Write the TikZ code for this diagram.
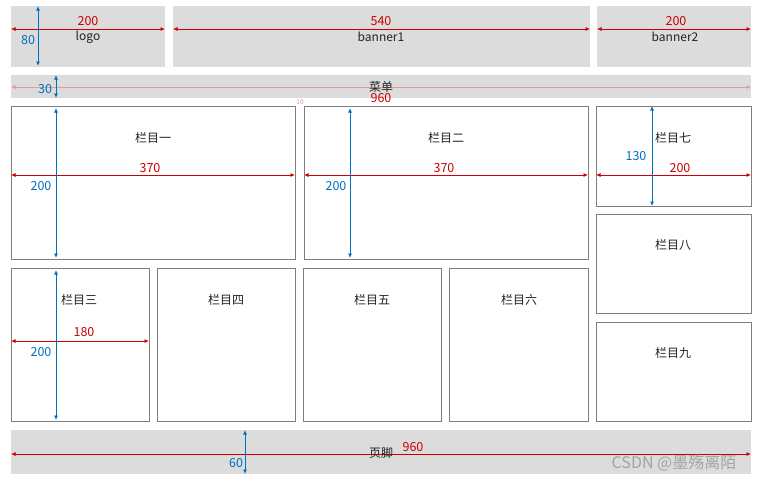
\documentclass[tikz,border=0pt]{standalone}
\usepackage{fontspec}
\setmainfont{Noto Sans CJK SC}
\usetikzlibrary{arrows.meta}
\definecolor{dimred}{HTML}{CC0000}
\definecolor{dimblue}{HTML}{0070C0}
\definecolor{boxgray}{HTML}{DCDCDC}
\definecolor{edgegray}{HTML}{7F7F7F}
\definecolor{lightred}{HTML}{E39A9A}
\definecolor{txtgray}{HTML}{222222}
\definecolor{markgray}{HTML}{A3A3A3}
\begin{document}
\begin{tikzpicture}[x=1pt,y=-1pt,
  graybox/.style={fill=boxgray,draw=none,inner sep=0pt,outer sep=0pt},
  whitebox/.style={fill=white,draw=edgegray,line width=0.9pt,inner sep=0pt,outer sep=0pt},
  dimh/.style={draw=dimred,line width=0.8pt,{Latex[length=4.5pt,width=4pt]}-{Latex[length=4.5pt,width=4pt]}},
  dimhl/.style={draw=lightred,line width=0.8pt,{Latex[length=4.5pt,width=4pt]}-{Latex[length=4.5pt,width=4pt]}},
  dimv/.style={draw=dimblue,line width=0.8pt,{Latex[length=4.5pt,width=4pt]}-{Latex[length=4.5pt,width=4pt]}},
  rlab/.style={text=dimred,font=\fontsize{12.5}{12.5}\selectfont,inner sep=0pt},
  blab/.style={text=dimblue,font=\fontsize{12.5}{12.5}\selectfont,inner sep=0pt},
  tlab/.style={text=txtgray,font=\fontsize{12}{12}\selectfont,inner sep=0pt}]
\useasboundingbox[fill=white] (0,0) rectangle (759,485);
% boxes
\node[graybox,minimum width=154pt,minimum height=61pt] (logo) at (88,36.5) {};
\node[graybox,minimum width=417pt,minimum height=61pt] (banner1) at (381.5,36.5) {};
\node[graybox,minimum width=154pt,minimum height=61pt] (banner2) at (674,36.5) {};
\node[graybox,minimum width=740pt,minimum height=23pt] (menu) at (381,86.5) {};
\node[whitebox,minimum width=284pt,minimum height=153pt] (c1) at (153,182.5) {};
\node[whitebox,minimum width=284pt,minimum height=153pt] (c2) at (446,182.5) {};
\node[whitebox,minimum width=155pt,minimum height=100pt] (c7) at (673.5,156) {};
\node[whitebox,minimum width=155pt,minimum height=99pt] (c8) at (673.5,263.5) {};
\node[whitebox,minimum width=155pt,minimum height=99pt] (c9) at (673.5,371.5) {};
\node[whitebox,minimum width=138pt,minimum height=153pt] (c3) at (80,344.5) {};
\node[whitebox,minimum width=138pt,minimum height=153pt] (c4) at (226,344.5) {};
\node[whitebox,minimum width=138pt,minimum height=153pt] (c5) at (372,344.5) {};
\node[whitebox,minimum width=139pt,minimum height=153pt] (c6) at (518.5,344.5) {};
\node[graybox,minimum width=740pt,minimum height=44pt] (footer) at (381,452) {};
% coordinates
\coordinate (logoL) at (11,29); \coordinate (logoR) at (165,29);
\coordinate (logoT) at (38,6); \coordinate (logoB) at (38,66);
\coordinate (b1L) at (173,29); \coordinate (b1R) at (590,29);
\coordinate (b2L) at (597,29); \coordinate (b2R) at (751,29);
\coordinate (menuL) at (11,87); \coordinate (menuR) at (751,87);
\coordinate (menuT) at (56,75); \coordinate (menuB) at (56,98);
\coordinate (c1L) at (11,175); \coordinate (c1R) at (295,175);
\coordinate (c1T) at (56,108); \coordinate (c1B) at (56,258);
\coordinate (c2L) at (304,175); \coordinate (c2R) at (588,175);
\coordinate (c2T) at (350,108); \coordinate (c2B) at (350,258);
\coordinate (c7L) at (596,175); \coordinate (c7R) at (751,175);
\coordinate (c7T) at (652,106); \coordinate (c7B) at (652,206);
\coordinate (c3L) at (11,341); \coordinate (c3R) at (149,341);
\coordinate (c3T) at (56,270); \coordinate (c3B) at (56,420);
\coordinate (ftL) at (11,454); \coordinate (ftR) at (751,454);
\coordinate (ftT) at (245,430); \coordinate (ftB) at (245,474);
% dimension lines
\draw[dimh] (logoL) -- (logoR);
\draw[dimv] (logoT) -- (logoB);
\draw[dimh] (b1L) -- (b1R);
\draw[dimh] (b2L) -- (b2R);
\draw[dimhl] (menuL) -- (menuR);
\draw[dimv] (menuT) -- (menuB);
\draw[dimh] (c1L) -- (c1R);
\draw[dimv] (c1T) -- (c1B);
\draw[dimh] (c2L) -- (c2R);
\draw[dimv] (c2T) -- (c2B);
\draw[dimh] (c7L) -- (c7R);
\draw[dimv] (c7T) -- (c7B);
\draw[dimh] (c3L) -- (c3R);
\draw[dimv] (c3T) -- (c3B);
\draw[dimh] (ftL) -- (ftR);
\draw[dimv] (ftT) -- (ftB);
% labels
\node[rlab] (logoW) at (88,21) {200};
\node[tlab] (logoN) at (88,37) {logo};
\node[blab] (logoH) at (28,40) {80};
\node[rlab] (b1W) at (381,21) {540};
\node[tlab] (b1N) at (381,37) {banner1};
\node[rlab] (b2W) at (676,21) {200};
\node[tlab] (b2N) at (675,37) {banner2};
\node[blab] (menuH) at (45,89) {30};
\node[tlab] (menuN) at (381,87) {菜单};
\node[rlab] (menuW) at (381,98) {960};
\node[text=lightred,font=\fontsize{6.5}{6.5}\selectfont,inner sep=0pt] (gap) at (300,102) {10};
\node[tlab] (c1N) at (153,138) {栏目一};
\node[rlab] (c1W) at (150,168) {370};
\node[blab] (c1H) at (41,186) {200};
\node[tlab] (c2N) at (446,138) {栏目二};
\node[rlab] (c2W) at (444,168) {370};
\node[blab] (c2H) at (336,186) {200};
\node[tlab] (c7N) at (673,138) {栏目七};
\node[blab] (c7H) at (636,156) {130};
\node[rlab] (c7W) at (680,168) {200};
\node[tlab] (c8N) at (673,245) {栏目八};
\node[tlab] (c9N) at (673,353) {栏目九};
\node[tlab] (c3N) at (79,300) {栏目三};
\node[rlab] (c3W) at (84,332) {180};
\node[blab] (c3H) at (41,352) {200};
\node[tlab] (c4N) at (226,300) {栏目四};
\node[tlab] (c5N) at (372,300) {栏目五};
\node[tlab] (c6N) at (519,300) {栏目六};
\node[tlab] (ftN) at (381,453) {页脚};
\node[rlab] (ftW) at (413,447) {960};
\node[blab] (ftH) at (236,463) {60};
\node[text=markgray,font=\fontsize{16}{16}\selectfont,inner sep=0pt] (mark) at (674,463) {CSDN @墨殇离陌};
\end{tikzpicture}
\end{document}
